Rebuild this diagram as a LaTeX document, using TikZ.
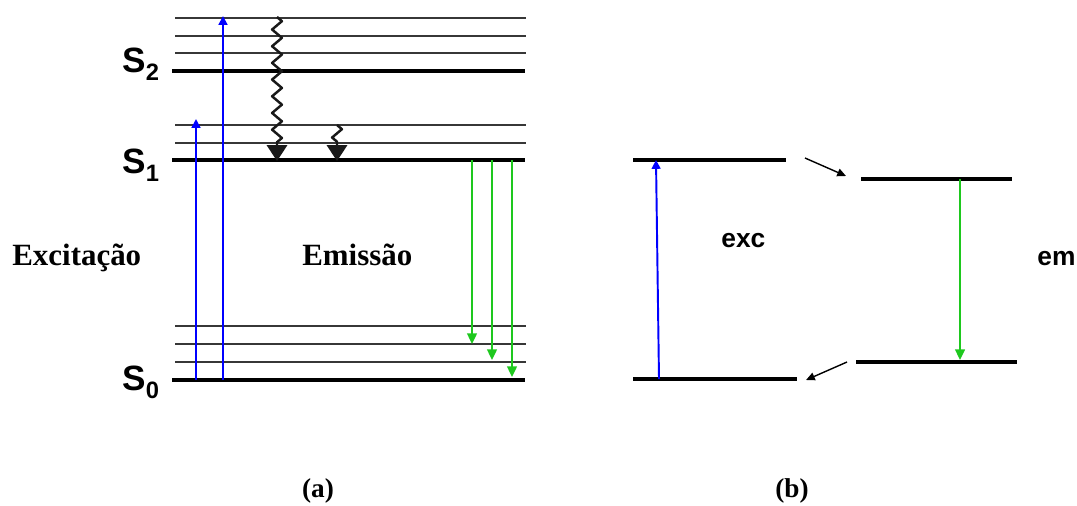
\documentclass[tikz,border=0pt]{standalone}
\usepackage{fontspec}
\setmainfont{Liberation Serif}
\newfontfamily\arialfont{Liberation Sans}
\usetikzlibrary{arrows.meta,decorations.pathmorphing}

\definecolor{absblue}{RGB}{0,0,255}
\definecolor{emgreen}{RGB}{30,200,30}
\definecolor{sublinegray}{RGB}{55,55,55}

\tikzset{
  level/.style={line width=2.2pt,black},
  sublevel/.style={line width=0.7pt,sublinegray},
  absarrow/.style={absblue,line width=1.1pt,-{Triangle[length=5pt,width=5pt]}},
  emarrow/.style={emgreen,line width=1.1pt,-{Triangle[length=6pt,width=5.5pt]}},
  relaxarrow/.style={line width=1.4pt,black!90,decorate,
    decoration={zigzag,amplitude=2.8pt,segment length=9.5pt,post length=9pt},
    line join=round,-{Triangle[length=9pt,width=11.5pt]}},
  shiftarrow/.style={line width=0.8pt,black,-{Triangle[length=5pt,width=4.5pt]}},
  statelabel/.style={font=\arialfont\bfseries\fontsize{20}{22}\selectfont,
    anchor=base west,inner sep=0pt},
  boldlabel/.style={font=\bfseries\fontsize{17.6}{20}\selectfont,
    anchor=base west,inner sep=0pt},
  smalllabel/.style={font=\arialfont\bfseries\fontsize{15}{17}\selectfont,
    anchor=base west,inner sep=0pt},
  panellabel/.style={font=\bfseries\fontsize{15.5}{18}\selectfont,
    anchor=base,inner sep=0pt}
}

\newcommand{\statename}[1]{S\raisebox{-5pt}{\fontsize{13.5}{14}\selectfont #1}}

\begin{document}
\begin{tikzpicture}[x=0.02cm,y=-0.02cm]
\useasboundingbox (0,0) rectangle (1077,505);

% Vibrational sublevels of panel (a)
\foreach \y in {18,36,53,125,143,326,344,362}
  \draw[sublevel] (175,\y) -- (526,\y);

% Electronic levels
\draw[level] (172,71) coordinate (S2left) -- (525,71) coordinate (S2right);
\draw[level] (172,160) coordinate (S1left) -- (525,160) coordinate (S1right);
\draw[level] (172,380) coordinate (S0left) -- (525,380) coordinate (S0right);

\node[statelabel] (S2) at (122,72) {\statename{2}};
\node[statelabel] (S1) at (122,173) {\statename{1}};
\node[statelabel] (S0) at (122,390) {\statename{0}};

\node[boldlabel] (excitacao) at (12,265) {Excitação};
\node[boldlabel] (emissao) at (302,265) {Emissão};

% Absorption
\coordinate (abs1from) at (196,380);
\coordinate (abs1to) at (196,119);
\coordinate (abs2from) at (223,380);
\coordinate (abs2to) at (223,16);
\draw[absarrow] (abs1from) -- (abs1to);
\draw[absarrow] (abs2from) -- (abs2to);

% Non radiative relaxation
\coordinate (relax1from) at (277,17);
\coordinate (relax1to) at (277,161);
\coordinate (relax2from) at (337,125);
\coordinate (relax2to) at (337,161);
\draw[relaxarrow] (relax1from) -- (relax1to);
\draw[relaxarrow] (relax2from) -- (relax2to);

% Emission
\foreach \n/\x/\y in {1/472/344,2/492/360,3/512/377}{
  \coordinate (em\n from) at (\x,160);
  \coordinate (em\n to) at (\x,\y);
  \draw[emarrow] (em\n from) -- (em\n to);
}

% Panel (b)
\draw[level] (633,160) coordinate (bS1left) -- (786,160) coordinate (bS1right);
\draw[level] (633,379) coordinate (bS0left) -- (797,379) coordinate (bS0right);
\draw[level] (861,179) coordinate (cS1left) -- (1012,179) coordinate (cS1right);
\draw[level] (856,362) coordinate (cS0left) -- (1017,362) coordinate (cS0right);

\coordinate (excfrom) at (659,379);
\coordinate (excto) at (656,160);
\draw[absarrow] (excfrom) -- (excto);

\coordinate (emfrom) at (960,179);
\coordinate (emto) at (960,360);
\draw[emarrow] (emfrom) -- (emto);

\coordinate (shift1from) at (805,158);
\coordinate (shift1to) at (846,176);
\coordinate (shift2from) at (847,362);
\coordinate (shift2to) at (806,380);
\draw[shiftarrow] (shift1from) -- (shift1to);
\draw[shiftarrow] (shift2from) -- (shift2to);

\node[smalllabel] (exc) at (721,247) {exc};
\node[smalllabel] (em) at (1037,265) {em};

% Panel captions
\node[panellabel] (capa) at (318,497) {(a)};
\node[panellabel] (capb) at (792,497) {(b)};
\end{tikzpicture}
\end{document}
